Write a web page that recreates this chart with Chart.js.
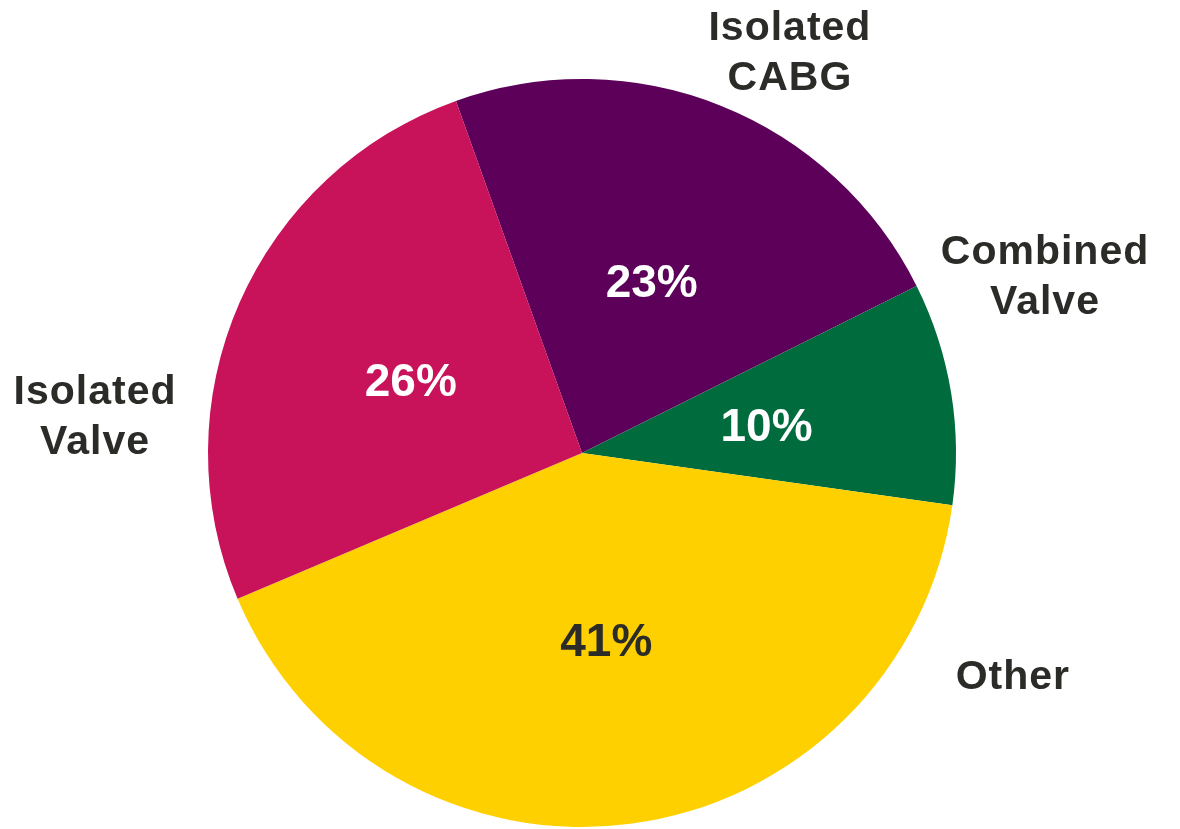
<!DOCTYPE html>
<html>
<head>
<meta charset="utf-8">
<title>Procedure mix</title>
<script src="https://cdn.jsdelivr.net/npm/chart.js"></script>
<style>
  html, body { margin:0; padding:0; background:#fff; }
  #wrap { width:1180px; height:829px; position:relative; }
</style>
</head>
<body>
<div id="wrap"><canvas id="pie"></canvas></div>
<script>
// ---------------- Data ----------------
const categories = ["Isolated CABG", "Combined Valve", "Other", "Isolated Valve"];
// slice sizes; labels show them rounded
const shares = [23.1, 9.6, 41.4, 25.9];
const sliceColors = ["#5C005A", "#006B3C", "#FFD000", "#C8125A"];
const pctColors = ["#FFFFFF", "#FFFFFF", "#2B2B28", "#FFFFFF"];
const outerLabels = [["Isolated", "CABG"], ["Combined", "Valve"], ["Other"], ["Isolated", "Valve"]];

// where each outer label sits, relative to pie centre, in radii
const outerSpots = [[0.556, -1.068], [1.238, -0.468], [1.152, 0.602], [-1.302, -0.094]];

const NAME_FONT = "bold 41px 'Liberation Sans', Arial, sans-serif";
const PCT_FONT = "bold 46px 'Liberation Sans', Arial, sans-serif";

// ---------------- Label plugin ----------------
const pieLabels = {
  id: "pieLabels",
  afterDatasetsDraw(chart) {
    const ctx = chart.ctx;
    const meta = chart.getDatasetMeta(0);
    ctx.save();
    ctx.textAlign = "center";
    ctx.textBaseline = "middle";
    meta.data.forEach((arc, i) => {
      const mid = (arc.startAngle + arc.endAngle) / 2;
      const r = arc.outerRadius;
      // percentage inside the slice
      ctx.font = PCT_FONT;
      ctx.letterSpacing = "0px";
      ctx.fillStyle = pctColors[i];
      ctx.fillText(Math.round(shares[i]) + "%", arc.x + Math.cos(mid) * r * 0.5, arc.y + Math.sin(mid) * r * 0.5 + 5);
      // category name outside
      ctx.font = NAME_FONT;
      ctx.letterSpacing = "1px";
      const lines = outerLabels[i];
      const cx = arc.x + outerSpots[i][0] * r;
      const cy = arc.y + outerSpots[i][1] * r;
      const lh = 50;
      ctx.fillStyle = "#2B2B28";
      lines.forEach((t, k) => {
        ctx.fillText(t, cx, cy + (k - (lines.length - 1) / 2) * lh);
      });
    });
    ctx.restore();
  }
};

new Chart(document.getElementById("pie"), {
  type: "pie",
  data: {
    labels: categories,
    datasets: [{
      data: shares,
      backgroundColor: sliceColors,
      borderWidth: 0,
      hoverOffset: 0
    }]
  },
  options: {
    responsive: true,
    maintainAspectRatio: false,
    animation: false,
    rotation: -19.7,
    layout: { padding: { top: 79, bottom: 2, left: 208, right: 224 } },
    plugins: {
      legend: { display: false },
      tooltip: { enabled: false }
    }
  },
  plugins: [pieLabels]
});
</script>
</body>
</html>
